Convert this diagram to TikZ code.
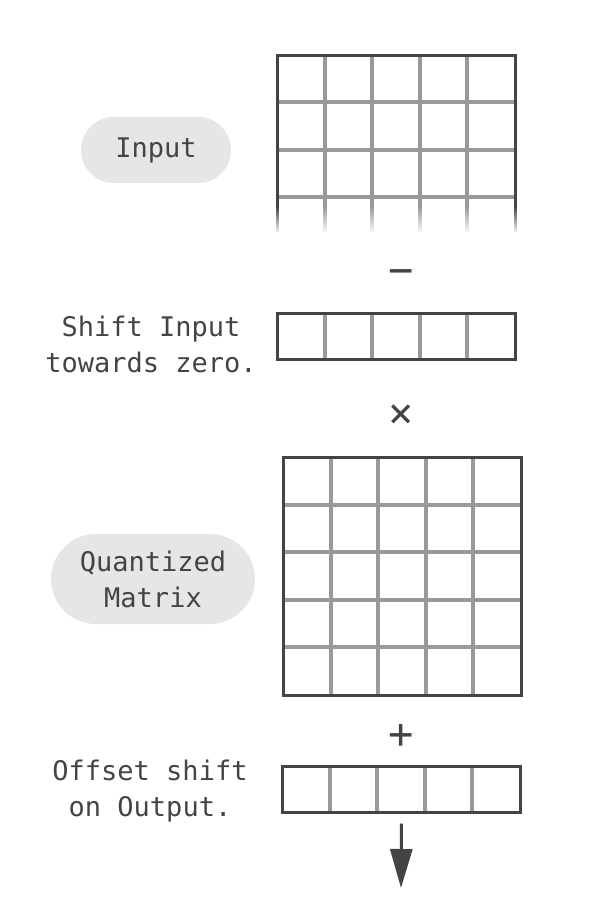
\documentclass[tikz,border=0pt]{standalone}
\usepackage{fontspec}
\setmonofont{DejaVu Sans Mono}
\usetikzlibrary{arrows.meta,fadings,positioning}
\definecolor{ink}{HTML}{444444}
\definecolor{gridgray}{HTML}{999999}
\definecolor{pillgray}{HTML}{E6E6E6}
\tikzfading[name=fade down, top color=transparent!100, bottom color=transparent!0]
\tikzset{
  note/.style={text=ink, font=\ttfamily\fontsize{27}{36}\selectfont, align=center, inner sep=0pt},
  pill/.style={note, fill=pillgray, minimum height=#1, rounded corners=#1/2},
  op/.style={text=ink, font=\ttfamily\fontsize{42}{42}\selectfont, inner sep=0pt},
  gridline/.style={gridgray, line width=4pt},
  frame/.style={ink, line width=3pt},
  barbox/.style={frame, draw, minimum width=238pt, minimum height=46pt, inner sep=0pt},
}
\begin{document}
\begin{tikzpicture}[x=1pt,y=-1pt,>={Triangle[length=39pt,width=22pt]}]
\useasboundingbox (0,0) rectangle (591,918);
%% labels
\node (input) at (156,150) [pill=66pt, minimum width=150pt] {Input};
\node (shiftnote) at (151,344) [note] {Shift Input\\towards zero.};
\node (quant) at (153,579) [pill=90pt, minimum width=204pt] {Quantized\\Matrix};
\node (offsetnote) at (150,791) [note] {Offset shift\\on Output.};
%% input grid, fading out at the bottom
\foreach \i in {1,...,4}
  \draw [gridline] (277+47.6*\i,55) -- (277+47.6*\i,232);
\foreach \j in {1,2,3}
  \draw [gridline] (277,55+47.3*\j) -- (515,55+47.3*\j);
\draw [frame] (277,232) -- (277,55) -- (515,55) -- (515,232);
\fill [white,path fading=fade down] (268,206) rectangle (524,234);
%% shift vector
\foreach \i in {1,...,4}
  \draw [gridline] (277+47.6*\i,313) -- (277+47.6*\i,359);
\node (shift) at (396,336) [barbox] {};
%% quantized matrix
\foreach \i in {1,...,4} {
  \draw [gridline] (283+47.6*\i,457) -- (283+47.6*\i,695);
  \draw [gridline] (283,457+47.6*\i) -- (521,457+47.6*\i);
}
\node (matrix) at (402,576) [frame, draw, minimum width=238pt, minimum height=238pt, inner sep=0pt] {};
%% offset vector
\foreach \i in {1,...,4}
  \draw [gridline] (282+47.6*\i,766) -- (282+47.6*\i,812);
\node (offset) at (401.5,789) [barbox] {};
%% operators
\node (minus) at (401,277) [op] {−};
\node (times) at (401,416) [op] {×};
\node (plus) at (401,736) [op] {+};
%% output arrow
\coordinate (outtip) at (401,888);
\draw [ink,line width=3pt,->] ([yshift=-10pt]offset.south) -- (outtip);
%
\end{tikzpicture}
\end{document}
